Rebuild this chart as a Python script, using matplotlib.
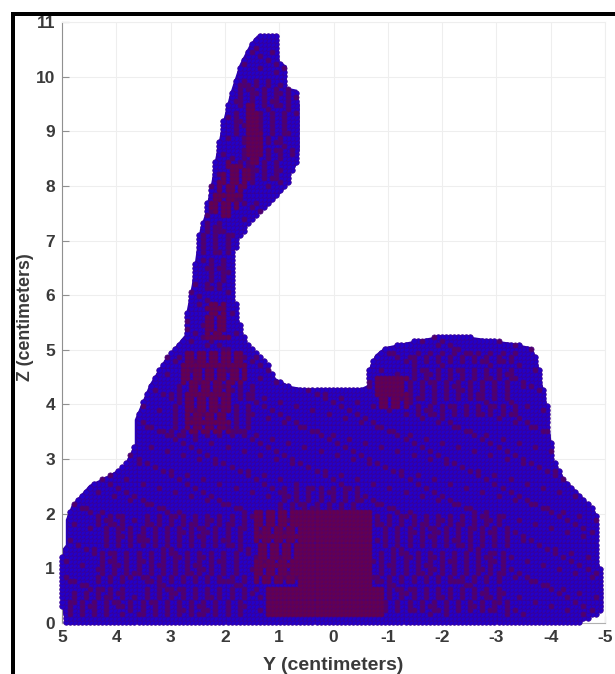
import matplotlib
matplotlib.use("Agg")
import matplotlib.pyplot as plt
from matplotlib.patches import Rectangle, Polygon
from matplotlib.path import Path
import numpy as np

plt.rcParams['font.family'] = ['Liberation Sans', 'DejaVu Sans']
plt.rcParams['axes.unicode_minus'] = False

# silhouette, clockwise from the top of the head
outline_y = [1.41, 1.02, 0.99, 0.86, 0.86, 0.67, 0.62, 0.62, 0.67, 0.77, 0.84, 0.99, 1.17, 1.39, 1.58, 1.73,
             1.82, 1.85, 1.82, 1.74, 1.63, 1.39, 1.21, 1.08, 0.80, 0.53, -0.49, -0.64, -0.64, -0.77, -0.95,
             -1.41, -1.87, -2.52, -3.26, -3.63, -3.75, -3.83, -3.92, -3.99, -4.05, -4.27, -4.73, -4.86, -4.86,
             -4.92, -4.97, -4.97, -4.74, -4.55, 4.93, 5.0, 5.06, 5.04, 5.0, 4.93, 4.93, 4.82, 4.49, 4.12, 3.85,
             3.66, 3.66, 3.39, 3.11, 2.74, 2.70, 2.61, 2.52, 2.46, 2.37, 2.24, 2.18, 2.05, 1.91, 1.73, 1.54]
outline_z = [10.75, 10.75, 10.27, 10.20, 9.80, 9.76, 9.49, 8.66, 8.39, 8.26, 8.02, 7.84, 7.66, 7.47, 7.29, 7.05,
             6.83, 6.47, 5.92, 5.55, 5.18, 4.91, 4.73, 4.49, 4.34, 4.29, 4.29, 4.36, 4.63, 4.91, 5.05,
             5.15, 5.24, 5.24, 5.13, 5.05, 4.85, 4.45, 4.08, 3.53, 2.99, 2.62, 2.16, 1.98, 1.25,
             0.97, 0.60, 0.24, 0.11, 0.0, 0.0, 0.24, 0.60, 0.88, 1.34, 1.43, 1.89, 2.16, 2.53, 2.71, 2.89,
             3.26, 3.72, 4.36, 4.82, 5.27, 5.73, 6.19, 6.83, 7.20, 7.47, 8.11, 8.48, 9.12, 9.67, 10.22, 10.59]

# maroon patches: solid ones
solid_y = [[0.62, -0.73, -0.73, 0.62], [1.25, -0.95, -0.95, 1.25],
           [1.62, 1.45, 1.30, 1.48, 1.62], [-0.8, -1.25, -1.25, -0.8]]
solid_z = [[2.07, 2.07, 0.6, 0.6], [0.62, 0.62, 0.15, 0.15],
           [9.5, 9.5, 8.7, 8.3, 8.7], [4.5, 4.5, 4.15, 4.15]]

# mottled patches, heavy streaks first
heavy_y = [[1.5, 0.62, 0.62, 1.5], [2.8, 1.7, 1.6, 1.7, 2.8], [2.35, 1.98, 1.95, 2.4],
           [-0.8, -1.4, -1.4, -0.8], [1.95, 1.5, 1.9, 2.3], [2.7, 1.9, 1.9, 2.7]]
heavy_z = [[2.05, 2.05, 0.7, 0.7], [4.95, 4.95, 4.5, 4.35, 4.35], [5.85, 5.85, 5.2, 5.2],
           [4.5, 4.5, 3.9, 3.9], [8.45, 8.3, 7.4, 7.6], [4.35, 4.35, 3.5, 3.5]]

light_y = [[3.0, 1.5, 1.5, 3.0], [-1.4, -3.4, -3.4, -1.4], [-0.75, -1.95, -1.95, -0.75], [-1.95, -3.2, -3.2, -1.95],
           [4.9, 4.0, 4.0, 4.9], [4.4, 3.7, 3.7, 4.4], [3.6, 1.6, 1.6, 3.6], [1.85, 0.75, 0.9, 1.4, 1.8],
           [2.55, 1.95, 1.9, 2.35], [1.0, -0.5, -0.5, 1.0]]
light_z = [[4.4, 4.4, 3.4, 3.4], [5.0, 5.0, 3.8, 3.8], [2.05, 2.05, 0.2, 0.2], [2.0, 2.0, 0.2, 0.2],
           [0.55, 0.55, 0.1, 0.1], [2.0, 2.0, 0.3, 0.3], [2.0, 2.0, 0.15, 0.15], [10.0, 9.9, 8.2, 8.0, 8.4],
           [7.6, 7.4, 6.1, 6.1], [2.55, 2.55, 2.1, 2.1]]

y_ticks = [5, 4, 3, 2, 1, 0, -1, -2, -3, -4, -5]
z_ticks = [0, 1, 2, 3, 4, 5, 6, 7, 8, 9, 10, 11]
lattice_step = 0.0745

fig = plt.figure(figsize=(6.15, 6.74), dpi=100)
ax = fig.add_axes([62 / 615, 51 / 674, 543 / 615, 601 / 674])

# voxel lattice cut by the silhouette
gy, gz = np.meshgrid(np.arange(-5.2, 5.2, lattice_step), np.arange(0.02, 10.8, lattice_step))
ix, iz = np.meshgrid(np.arange(gy.shape[1]), np.arange(gy.shape[0]))
pts = np.column_stack([gy.ravel(), gz.ravel()])
ix, iz = ix.ravel(), iz.ravel()
inside = Path(np.column_stack([outline_y, outline_z])).contains_points(pts)


def in_patches(ys, zs):
    mask = np.zeros(len(pts), dtype=bool)
    for y, z in zip(ys, zs):
        mask |= Path(np.column_stack([y, z])).contains_points(pts)
    return mask


red = in_patches(solid_y, solid_z)
red |= in_patches(heavy_y, heavy_z) & (((ix + iz // 4) % 3 != 0) | (iz % 7 == 0))
red &= inside & (gz.ravel() > 0.12)

# softer purple mottling, and faint specks over the whole body
mid = in_patches(light_y, light_z) & ((ix + iz // 6) % 3 == 0) & (iz % 9 != 0)
mid |= (ix * ix * 3 + iz * iz * 5 + ix * iz) % 19 == 0
mid &= inside & ~red & (gz.ravel() > 0.12)

blue = inside & ~red & ~mid
# solid underlay so the lattice rows leave no white gaps
ax.add_patch(Polygon(np.column_stack([outline_y, outline_z]), closed=True, facecolor='#2600b8', edgecolor='none', zorder=2))
ax.scatter(pts[blue, 0], pts[blue, 1], s=16, c='#2400c8', edgecolors='#3a0090', linewidths=0.5, clip_on=False, zorder=3)
ax.scatter(pts[mid, 0], pts[mid, 1], s=14, c='#50006c', edgecolors='#480080', linewidths=0.5, clip_on=False, zorder=4)
ax.scatter(pts[red, 0], pts[red, 1], s=14, c='#640050', edgecolors='#55006a', linewidths=0.5, clip_on=False, zorder=5)

ax.set_xlim(5, -5)
ax.set_ylim(0, 11)
ax.set_xticks(y_ticks)
ax.set_yticks(z_ticks)
ax.grid(True, color='#eeeeee', linewidth=0.8)
ax.set_axisbelow(True)
ax.tick_params(direction='in', length=5, width=0.8, color='#909090', labelcolor='#3a3a3a', labelsize=12.5, pad=5)
for lab in ax.get_xticklabels() + ax.get_yticklabels():
    lab.set_fontweight('bold')
ax.spines['left'].set_color('#909090')
ax.spines['bottom'].set_color('#b0b0b0')
ax.spines['top'].set_color('#eeeeee')
ax.spines['right'].set_color('#eeeeee')

fig.text(333 / 615, 8 / 674, 'Y (centimeters)', ha='center', va='center', fontsize=14, fontweight='bold', color='#3a3a3a')
fig.text(25 / 615, 357 / 674, 'Z (centimeters)', ha='center', va='center', rotation=90, fontsize=12.8, fontweight='bold', color='#3a3a3a')

# black frame of the screenshot, left and top only
fig.add_artist(Rectangle((11 / 615, 0), 4 / 615, 662 / 674, transform=fig.transFigure, color='black', linewidth=0))
fig.add_artist(Rectangle((11 / 615, 658 / 674), 604 / 615, 4 / 674, transform=fig.transFigure, color='black', linewidth=0))

fig.savefig('out.png', dpi=100)
